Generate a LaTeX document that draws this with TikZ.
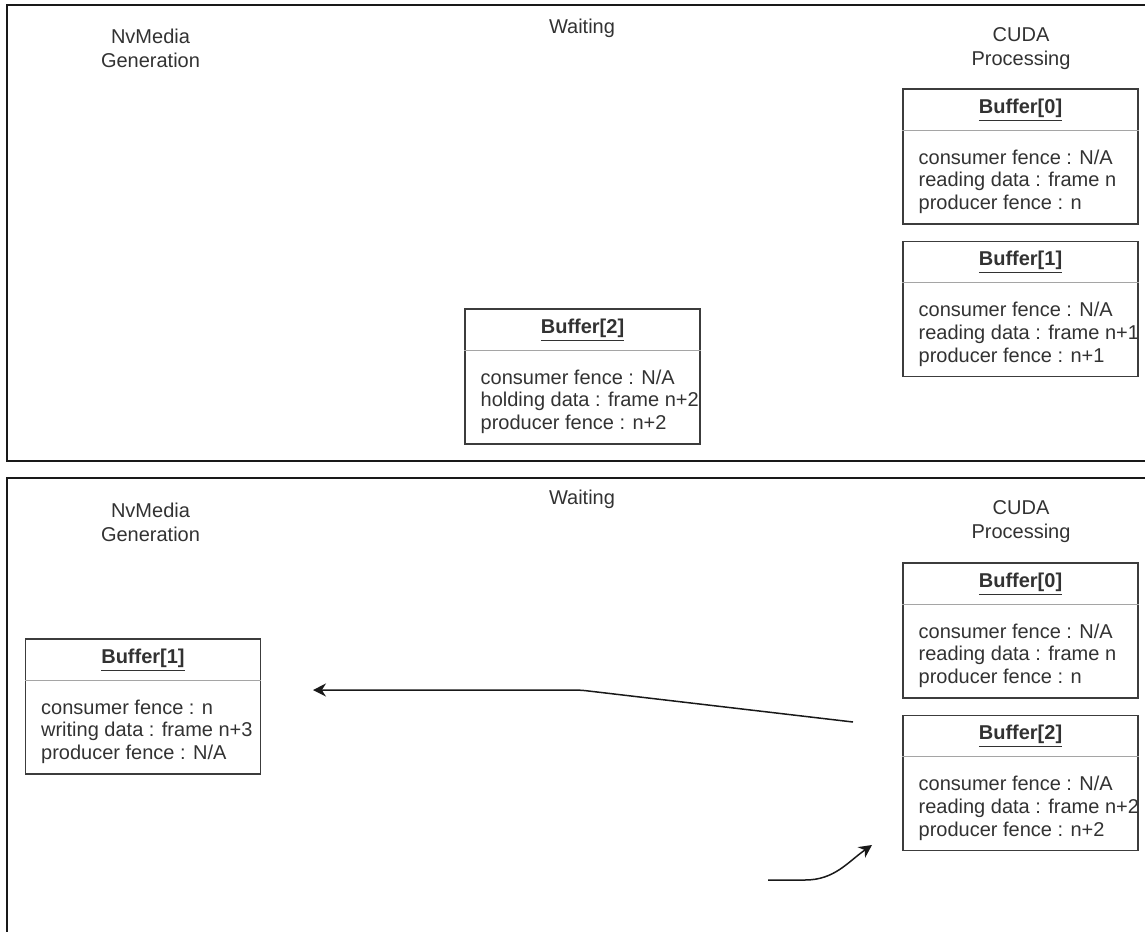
\documentclass[tikz,border=0pt]{standalone}
\usepackage{fontspec}
\setmainfont{Liberation Sans}
\usetikzlibrary{arrows.meta,positioning,calc}
\definecolor{ink}{RGB}{25,25,25}
\definecolor{txt}{RGB}{50,50,50}
\definecolor{rulegray}{RGB}{165,165,165}
\tikzset{
  panel/.style={draw=ink,line width=1pt},
  lane/.style={font=\fontsize{10}{12}\selectfont,text=txt,align=center,inner sep=0pt},
  buf/.style={draw=ink!85,line width=0.75pt,minimum width=117.5pt,minimum height=67.5pt,inner sep=0pt},
  bufhead/.style={font=\fontsize{10}{12}\selectfont\bfseries,text=txt,inner sep=0pt},
  bufbody/.style={font=\fontsize{10}{11.4}\selectfont,text=txt,align=left,inner sep=0pt},
  divline/.style={draw=rulegray,line width=0.6pt},
  arr/.style={-{Stealth[length=6.5pt,width=6.5pt]},line width=0.75pt,ink},
}
% one buffer: name, centre, title, three fields
\newcommand{\buffer}[6]{%
  \node[buf] (#1) at (#2) {};
  \node[bufhead] at ([yshift=-11pt]#1.north) {\underline{#3}};
  \draw[divline] ([yshift=-21pt]#1.north west) -- ([yshift=-21pt]#1.north east);
  \node[bufbody,anchor=north west] at ([xshift=8pt,yshift=-30.5pt]#1.north west) {#4\\#5\\#6};
}

\begin{document}
\begin{tikzpicture}[x=0.5pt,y=-0.5pt]
\useasboundingbox (0,0) rectangle (1145,932);

% two frames
\draw[panel] (1145,5) -- (7,5) -- (7,461) -- (1145,461);
\draw[panel] (1145,478) -- (7,478) -- (7,932);

% lane titles, upper frame
\node[lane] (genA) at (150.5,48) {NvMedia\\Generation};
\node[lane] (waitA) at (582,28) {Waiting};
\node[lane] (cudaA) at (1021,49) {CUDA\\Processing};

% buffers, upper frame
\buffer{T0}{1020.5,156.5}{Buffer[0]}{consumer fence : N/A}{reading data : frame n}{producer fence : n}
\buffer{T1}{1020.5,309}{Buffer[1]}{consumer fence : N/A}{reading data : frame n+1}{producer fence : n+1}
\buffer{T2}{582.5,376.5}{Buffer[2]}{consumer fence : N/A}{holding data : frame n+2}{producer fence : n+2}

% lane titles, lower frame
\node[lane] (genB) at (150.5,522) {NvMedia\\Generation};
\node[lane] (waitB) at (582,499) {Waiting};
\node[lane] (cudaB) at (1021,522) {CUDA\\Processing};

% buffers, lower frame
\buffer{B0}{1020.5,630.5}{Buffer[0]}{consumer fence : N/A}{reading data : frame n}{producer fence : n}
\buffer{B2}{1020.5,783}{Buffer[2]}{consumer fence : N/A}{reading data : frame n+2}{producer fence : n+2}
\buffer{B1}{143,706.5}{Buffer[1]}{consumer fence : n}{writing data : frame n+3}{producer fence : N/A}

% hand-over arrows
\coordinate (backFrom) at (853,722);
\coordinate (backTo) at (313,690);
\coordinate (feedFrom) at (768,880);
\coordinate (feedTo) at (872,845);
\draw[arr,rounded corners=3pt] (backFrom) -- (580,690) -- (backTo);
\draw[arr] (feedFrom) -- (805,880) to[out=0,in=-145] (feedTo);
\end{tikzpicture}
\end{document}
